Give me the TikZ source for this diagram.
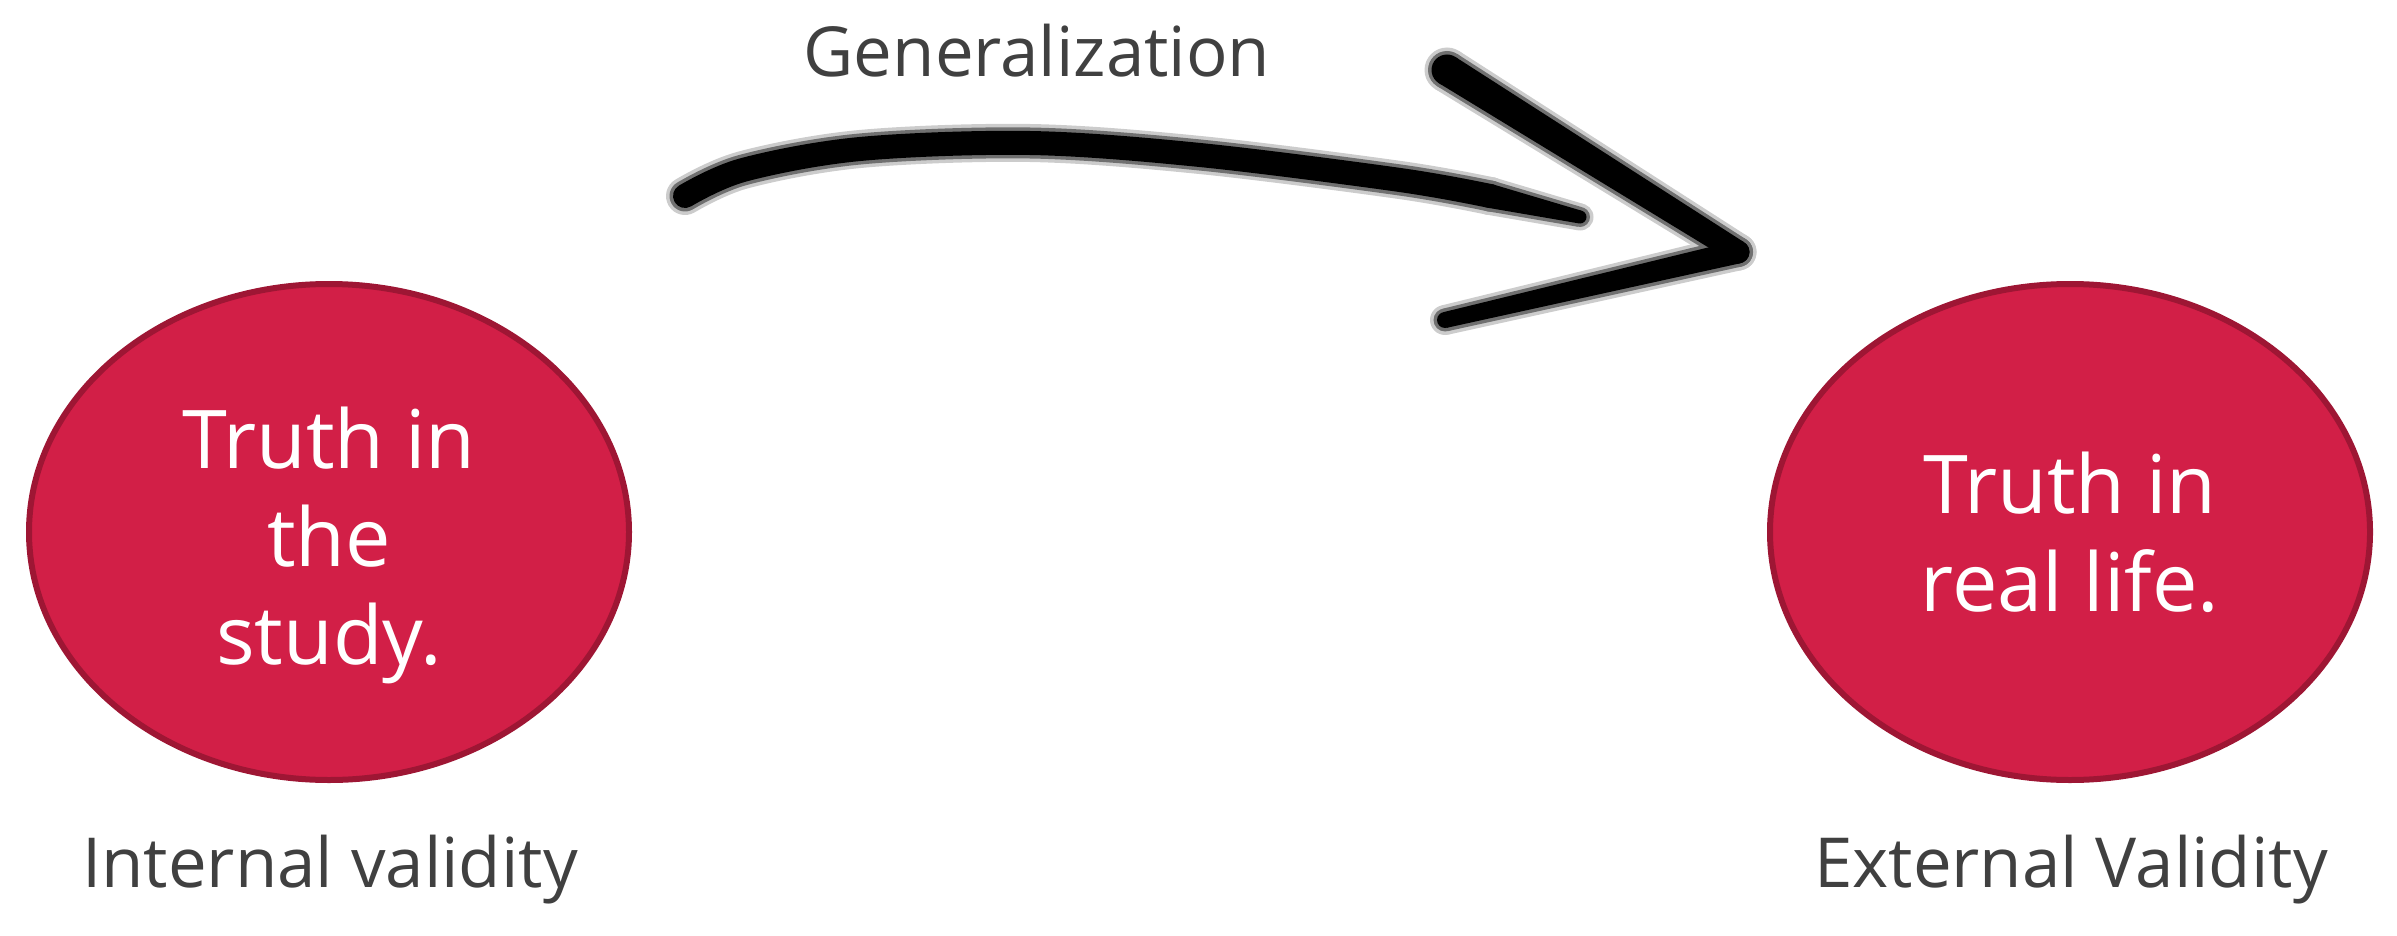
\documentclass[tikz,border=0pt]{standalone}
\usepackage{fontspec}
\setmainfont{Open Sans}
\usetikzlibrary{shapes.geometric,calc}
\definecolor{ellfill}{HTML}{D21F47}
\definecolor{elldraw}{HTML}{9E1634}
\definecolor{labelgray}{HTML}{404040}
\tikzset{
  bubble/.style={ellipse, fill=ellfill, draw=elldraw, line width=6pt,
    minimum width=600pt, minimum height=496pt, inner sep=0pt},
  bubbletext/.style={text=white, align=center, inner sep=0pt,
    font=\fontsize{81}{98}\selectfont},
  caption/.style={text=labelgray, inner sep=0pt, anchor=base,
    font=\fontsize{69}{80}\selectfont},
  brush/.style={draw=black, line cap=round, line join=round}
}
\def\brushextra{0}
% tapered brush segment: from #1 (half-width #3) to #2 (half-width #4)
\newcommand{\brushseg}[4]{%
  \pgfmathsetmacro\brA{#3+\brushextra}%
  \pgfmathsetmacro\brB{#4+\brushextra}%
  \fill[black] ($(#1)!\brA pt!90:(#2)$) -- ($(#2)!\brB pt!-90:(#1)$) --
    ($(#2)!\brB pt!90:(#1)$) -- ($(#1)!\brA pt!-90:(#2)$) -- cycle;
  \fill[black] (#1) circle (\brA pt);
  \fill[black] (#2) circle (\brB pt);}
\newcommand{\brushshape}{%
  \pgfmathsetmacro\brW{2*(12+\brushextra)}%
  \path[brush, line width=\brW pt] plot[smooth, tension=0.55]
    coordinates {(s0) (s1) (s2) (s3) (s4) (s5) (s6)};
  \brushseg{s6}{s7}{12}{6.5}
  \brushseg{h0}{h3}{15.5}{11.5}
  \brushseg{h3}{h5}{11.5}{8}}
\begin{document}
\begin{tikzpicture}[x=1pt,y=-1pt]
\useasboundingbox (0,0) rectangle (2397,936);
% ellipses
\node[bubble] (study) at (329,532) {};
\node[bubbletext] (studytxt) at (329,545) {Truth in\\the\\study.};
\node[bubble] (life) at (2070,532) {};
\node[bubbletext] (lifetxt) at (2070,532) {Truth in\\real life.};
% captions
\node[caption] (internal) at (330,887) {Internal validity};
\node[caption] (external) at (2071,887) {External Validity};
\node[caption] (gen) at (1037,77) {Generalization};
% brush arrow: shaft
\coordinate (s0) at (685,196);
\coordinate (s1) at (743,170);
\coordinate (s2) at (860,149);
\coordinate (s3) at (1030,143);
\coordinate (s4) at (1200,155);
\coordinate (s5) at (1400,180);
\coordinate (s6) at (1490,196);
\coordinate (s7) at (1580,217);
% head
\coordinate (h0) at (1447,70);
\coordinate (h3) at (1738,252);
\coordinate (h5) at (1445,320);
\def\brushextra{7}
\begin{scope}[transparency group, opacity=0.2]\brushshape\end{scope}
\def\brushextra{3.5}
\begin{scope}[transparency group, opacity=0.45]\brushshape\end{scope}
\def\brushextra{0}
\brushshape
\end{tikzpicture}
\end{document}
